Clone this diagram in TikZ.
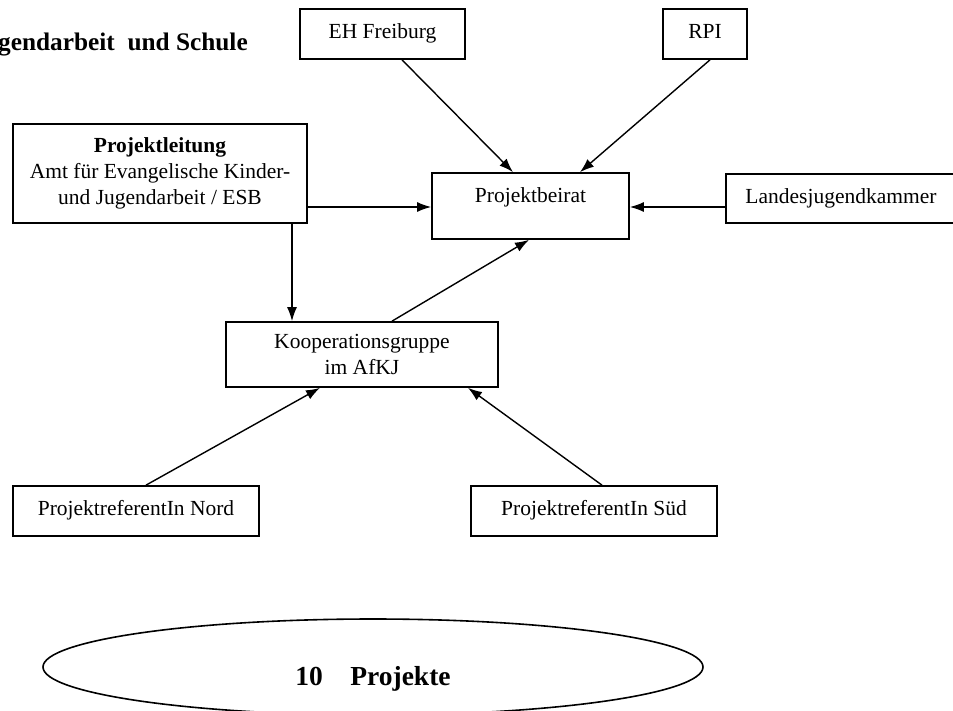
\documentclass[tikz,border=0pt]{standalone}
\usepackage{fontspec}
\setmainfont{Liberation Serif}
\usetikzlibrary{arrows.meta,shapes.geometric}
\begin{document}
\begin{tikzpicture}[x=1pt,y=-1pt,
  box/.style={draw,line width=1.7pt,inner sep=0pt,align=center,font=\fontsize{21.5}{26}\selectfont},
  oneline/.style={text height=14pt,text depth=5pt},
  arr/.style={line width=1.4pt,-{Latex[length=14pt,width=10pt]}}]
\useasboundingbox (0,0) rectangle (953,710);
\node[box,oneline,minimum width=165pt,minimum height=50pt] (eh) at (382.5,34) {EH Freiburg};
\node[box,oneline,minimum width=84pt,minimum height=50pt] (rpi) at (705,34) {RPI};
\node[box,minimum width=294pt,minimum height=99pt] (leit) at (160,173.5) {\textbf{Projektleitung}\\Amt für Evangelische Kinder-\\und Jugendarbeit / ESB};
\node[box,text height=29pt,text depth=37pt,minimum width=197pt] (beirat) at (530.5,206) {Projektbeirat};
\node[box,oneline,minimum width=230pt,minimum height=49pt] (lj) at (841,198.5) {Landesjugendkammer};
\node[box,minimum width=272pt,minimum height=65pt] (koop) at (362,354.5) {Kooperationsgruppe\\im AfKJ};
\node[box,oneline,minimum width=246pt,minimum height=50pt] (nord) at (136,511) {ProjektreferentIn Nord};
\node[box,oneline,minimum width=246pt,minimum height=50pt] (sued) at (594,511) {ProjektreferentIn Süd};
\node[draw,ellipse,line width=1.6pt,inner sep=0pt,minimum width=660pt,minimum height=96pt,text height=40pt,text depth=4pt,font=\bfseries\fontsize{27.5}{30}\selectfont] (proj) at (373,667) {10\quad Projekte};
\node[anchor=base west,inner sep=0pt,font=\bfseries\fontsize{25.3}{28}\selectfont] (title) at (-2,50) {gendarbeit\ \ und Schule};
\draw[arr] (eh.south -| 402,0) -- (beirat.north -| 513,0);
\draw[arr] (rpi.south -| 710,0) -- (beirat.north -| 580,0);
\draw[arr] (leit.east |- 0,207) -- (beirat.west |- 0,207);
\draw[arr] (lj.west |- 0,207) -- (beirat.east |- 0,207);
\draw[arr] (leit.south -| 292,0) -- (koop.north -| 292,0);
\draw[arr] (koop.north -| 392,0) -- (beirat.south -| 529,0);
\draw[arr] (nord.north -| 146,0) -- (koop.south -| 320,0);
\draw[arr] (sued.north -| 602,0) -- (koop.south -| 468,0);
\end{tikzpicture}
\end{document}
